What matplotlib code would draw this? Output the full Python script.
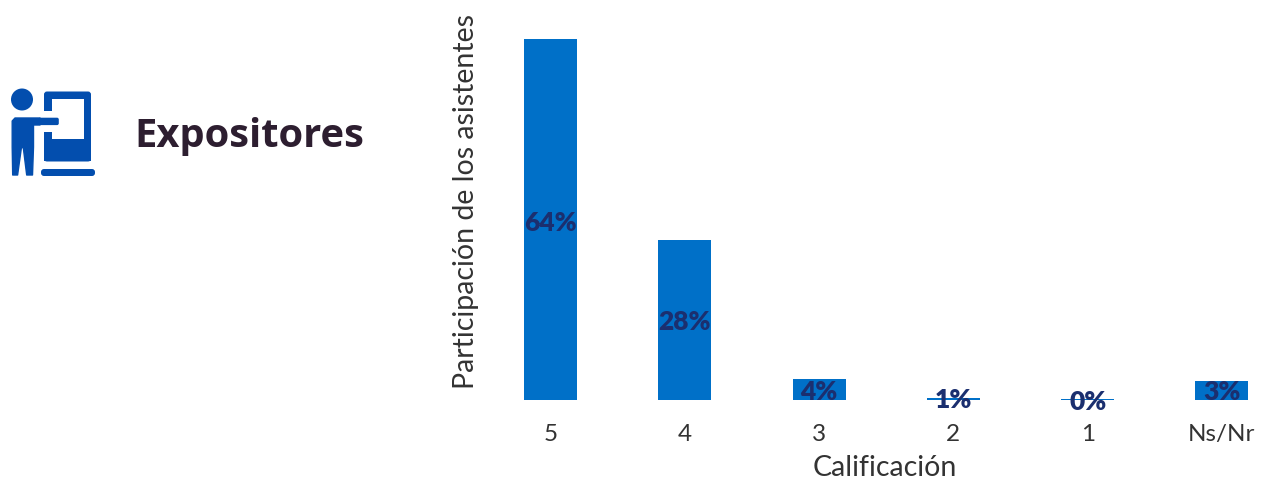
import matplotlib
matplotlib.use('Agg')
import matplotlib.pyplot as plt
from matplotlib.patches import Circle, FancyBboxPatch, Polygon, Rectangle

categorias = ['5', '4', '3', '2', '1', 'Ns/Nr']
alturas = [64, 28.4, 3.7, 0.4, 0.2, 3.4]
etiquetas = ['64%', '28%', '4%', '1%', '0%', '3%']

W, H = 1265, 482
AZUL = '#0070c8'
AZUL_ICONO = '#034eae'
fig = plt.figure(figsize=(W / 100, H / 100), dpi=100)

# grafico de barras, eje colocado en pixeles de la imagen
x0, x1, y0, y1 = 490, 1255.5, 400, 27.8
ax = fig.add_axes([x0 / W, 1 - y0 / H, (x1 - x0) / W, (y0 - y1) / H])
pos = list(range(len(categorias)))
ax.bar(pos, alturas, width=0.395, color=AZUL)
ax.set_xlim(-0.45, 5.25)
ax.set_ylim(0, 66)
for s in ax.spines.values():
    s.set_visible(False)
ax.set_yticks([])
ax.set_xticks(pos)
ax.set_xticklabels(categorias, fontsize=17.5, family='Lato', color='#333333')
ax.tick_params(axis='x', length=0, pad=17)
ax.set_xlabel('Calificación', fontsize=20.5, family='Lato', color='#333333')
ax.xaxis.set_label_coords((885 - x0) / (x1 - x0), -(476 - y0) / (y0 - y1))
ax.xaxis.label.set_verticalalignment('baseline')
ax.set_ylabel('Participación de los asistentes', fontsize=20.5, family='Lato', color='#333333')
ax.yaxis.set_label_coords((479 - x0) / (x1 - x0), (y0 - 201) / (y0 - y1))

# las etiquetas van centradas sobre las barras
posiciones_y = [31.4, 13.8, 1.5, 0.05, -0.3, 1.5]
for p, py, e in zip(pos, posiciones_y, etiquetas):
    ax.text(p, py, e, ha='center', va='center', fontsize=19, fontweight='heavy',
            family='Lato', color='#1b2f6f', clip_on=False)

# icono y titulo en coordenadas de pixel
ov = fig.add_axes([0, 0, 1, 1])
ov.set_xlim(0, W)
ov.set_ylim(H, 0)
ov.axis('off')
ov.patch.set_alpha(0)

ov.add_patch(FancyBboxPatch((47, 94.5), 41, 64, boxstyle='round,pad=3', fc=AZUL_ICONO, ec='none'))
ov.add_patch(Rectangle((51.7, 99.3), 32.3, 40, fc='white', ec='none'))
ov.add_patch(Rectangle((43, 110.7), 9, 21.6, fc='white', ec='none'))
ov.add_patch(Rectangle((44, 158), 47, 3, fc=AZUL_ICONO, ec='none'))
ov.add_patch(Circle((22, 99.5), 11, fc=AZUL_ICONO, ec='none'))
ov.add_patch(FancyBboxPatch((40, 119.5), 17, 3.8, boxstyle='round,pad=1.8', fc=AZUL_ICONO, ec='none'))
ov.add_patch(Polygon([(15, 118), (40, 118), (40, 125), (33.5, 125), (33.5, 147), (32.5, 175),
                      (26.7, 175), (23.3, 147.7), (21.4, 147.7), (17.6, 175), (12.7, 175), (12.2, 147),
                      (12.2, 121)], fc=AZUL_ICONO, ec=AZUL_ICONO, lw=1, joinstyle='round'))
ov.add_patch(FancyBboxPatch((44, 172), 48, 1, boxstyle='round,pad=3', fc=AZUL_ICONO, ec='none'))

ov.text(134.5, 147, 'Expositores', fontsize=28.7, fontweight='bold', family='Open Sans',
        color='#2d1e30', ha='left', va='baseline')

fig.savefig('out.png', dpi=100)
